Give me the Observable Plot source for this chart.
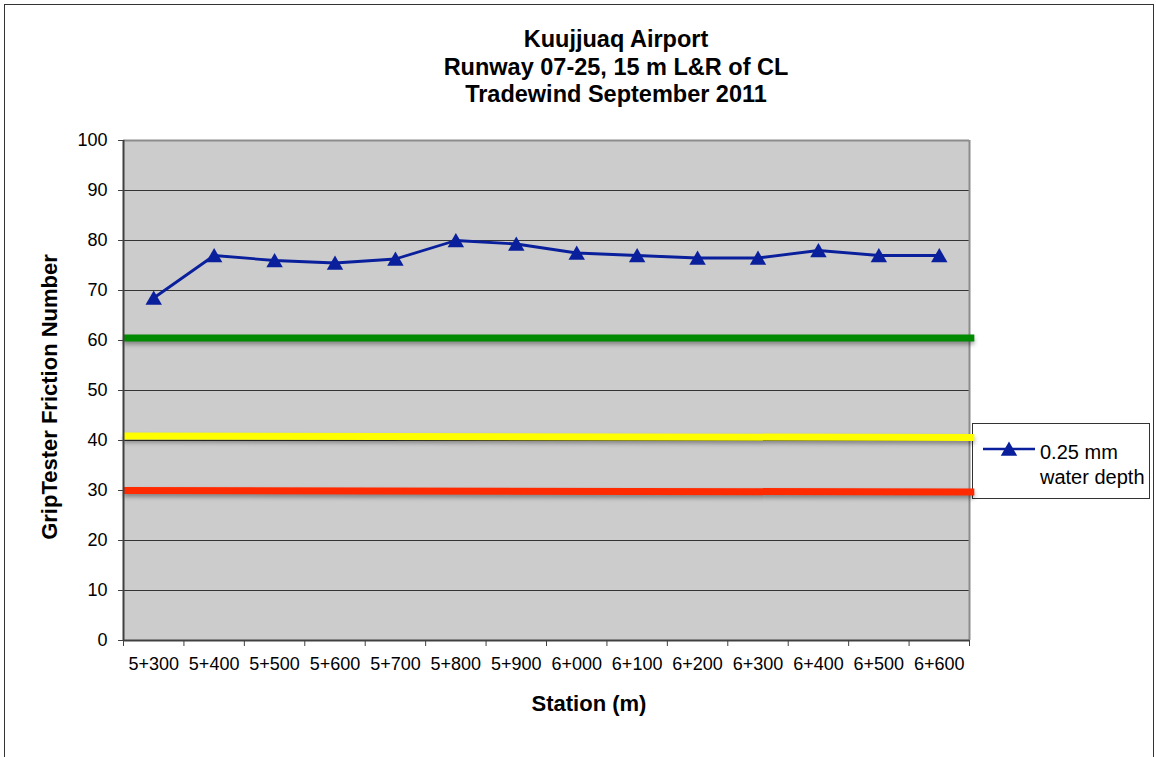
<!DOCTYPE html>
<html><head><meta charset="utf-8">
<script src="https://cdn.jsdelivr.net/npm/d3@7"></script>
<script src="https://cdn.jsdelivr.net/npm/@observablehq/plot@0.6"></script>
<style>
body{margin:0;overflow:hidden;background:#fff;font-family:"Liberation Sans",Arial,sans-serif;color:#000;}
#wrap{position:relative;width:1156px;height:757px;overflow:hidden;}
#border{position:absolute;left:4px;top:4px;width:1150px;height:800px;border:1.5px solid #333;box-sizing:border-box;}
#title{position:absolute;left:416px;width:400px;top:26px;text-align:center;font-weight:bold;font-size:23.5px;line-height:27.5px;}
#legend{position:absolute;left:972px;top:423px;width:178px;height:76px;border:1px solid #333;box-sizing:border-box;background:#fff;}
#legendText{position:absolute;left:1040px;top:440px;font-size:20px;line-height:24.7px;}
#legendSym{position:absolute;left:978px;top:435px;}
#chart{position:absolute;left:0;top:0;}
#xtitle{position:absolute;left:389px;width:400px;top:691px;text-align:center;font-weight:bold;font-size:22px;line-height:26px;}
#ytitle{position:absolute;left:50px;top:397px;transform:translate(-50%,-50%) rotate(-90deg);white-space:nowrap;font-weight:bold;font-size:22px;line-height:26px;}
</style></head><body>
<div id="wrap">
  <div id="border"></div>
  <div id="title">Kuujjuaq Airport<br>Runway 07-25, 15 m L&amp;R of CL<br>Tradewind September 2011</div>
  <div id="legend"></div>
  <div id="chart"></div>
  <svg id="legendSym" width="62" height="30"></svg>
  <div id="legendText">0.25 mm<br>water depth</div>
  <div id="xtitle">Station (m)</div>
  <div id="ytitle">GripTester Friction Number</div>
</div>
<script>
const stations = ["5+300","5+400","5+500","5+600","5+700","5+800","5+900","6+000","6+100","6+200","6+300","6+400","6+500","6+600"];
const friction = [68.5, 77, 76, 75.5, 76.3, 80, 79.3, 77.5, 77, 76.5, 76.5, 78, 77, 77];
const yTicks = [0,10,20,30,40,50,60,70,80,90,100];
const thresholdColors = ["#008a00","#ffff00","#ff2a00"];
const thresholdStartValues = [60.5, 40.9, 30.0];
const thresholdEndValues = [60.5, 40.6, 29.7];
const seriesColor = "#0a1f9c";

const data = stations.map((s, i) => ({i, station: s, value: friction[i]}));
const thresholds = thresholdColors.map((c, k) => ({color: c, y1: thresholdStartValues[k], y2: thresholdEndValues[k]}));
const idx = stations.map((_, i) => i);
const xMin = -0.5, xMax = stations.length - 0.5;
const bounds = d3.range(xMin, stations.length, 1);
const lineEnd = xMax + 0.08;

const chart = Plot.plot({
  width: 1156, height: 757,
  marginTop: 140, marginBottom: 117, marginLeft: 123, marginRight: 187,
  x: {type: "linear", domain: [xMin, xMax], label: null},
  y: {domain: [0, 100], label: null},
  style: {background: "transparent", fontFamily: '"Liberation Sans", Arial, sans-serif', fontSize: "18px", color: "#000"},
  marks: [
    Plot.frame({fill: "#cccccc", stroke: null}),
    Plot.gridY(yTicks.filter(v => v > 0 && v < 100), {stroke: "#333", strokeOpacity: 1, strokeWidth: 1}),
    Plot.ruleY([100], {stroke: "#8c8c8c", strokeWidth: 2}),
    Plot.ruleX([xMax], {stroke: "#8c8c8c", strokeWidth: 2}),
    ...thresholds.map(t => Plot.link([t], {x1: () => xMin, x2: () => lineEnd, y1: "y1", y2: "y2", stroke: t.color, strokeWidth: 7})),
    Plot.ruleX([xMin], {stroke: "#404040", strokeWidth: 2}),
    Plot.ruleY([0], {stroke: "#404040", strokeWidth: 2}),
    Plot.line(data, {x: "i", y: "value", stroke: seriesColor, strokeWidth: 2.8}),
    Plot.dot(data, {x: "i", y: "value", symbol: "triangle", r: 6.1, dy: 2, fill: seriesColor, stroke: null}),
    Plot.axisY(yTicks, {tickSize: 5, tickPadding: 11, stroke: "#404040", fontSize: 18, label: null}),
    Plot.axisX(bounds, {tickSize: 6, tickFormat: () => "", stroke: "#404040", label: null}),
    Plot.axisX(idx, {tickSize: 0, tickPadding: 17, tickFormat: i => stations[i], fontSize: 18, label: null})
  ]
});
document.getElementById("chart").appendChild(chart);
d3.select(chart).selectAll('g[aria-label="link"]').style("filter", "drop-shadow(0px 3px 2px rgba(0,0,0,0.35))");

// legend symbol
const ls = d3.select("#legendSym");
ls.append("line").attr("x1", 5).attr("x2", 57).attr("y1", 14).attr("y2", 14).attr("stroke", seriesColor).attr("stroke-width", 2.5);
ls.append("path").attr("d", d3.symbol(d3.symbolTriangle, Math.PI * 6.1 * 6.1)()).attr("transform", "translate(31,16)").attr("fill", seriesColor);
</script>
</body></html>
